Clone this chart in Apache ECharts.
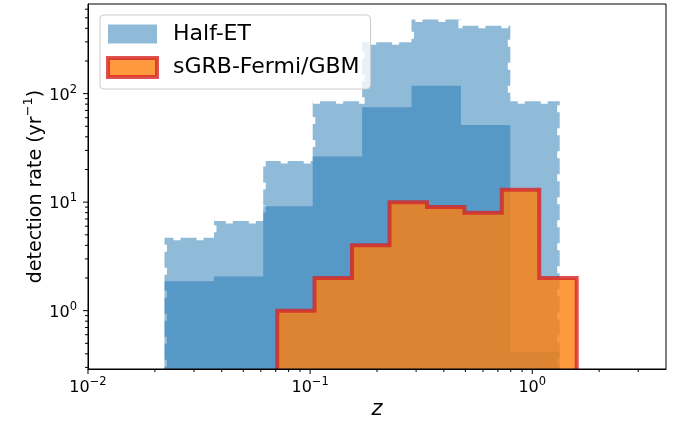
<!DOCTYPE html>
<html><head><meta charset="utf-8">
<script src="https://cdn.jsdelivr.net/npm/echarts@6/dist/echarts.min.js"></script>
<style>html,body{margin:0;padding:0;background:#fff}#c{width:691px;height:428px}</style>
</head><body><div id="c"></div>
<script>
// ---- data ----
const etEdges = [0.0221, 0.0369, 0.0615, 0.1027, 0.1714, 0.2860, 0.4774, 0.7966, 1.329];
const etOuterValues = [4.7, 6.7, 24, 85, 297, 481, 423, 85];      // light dashed histogram
const etValues = [1.87, 2.07, 9.15, 26.4, 75, 118, 51.5, 0.42];     // Half-ET
const grbEdges = [0.0711, 0.1047, 0.1544, 0.2277, 0.3357, 0.4947, 0.7295, 1.0752, 1.585];
const grbValues = [1, 2, 4, 10, 9, 8, 13, 2];                       // sGRB-Fermi/GBM
const xMajorTicks = [0.01, 0.1, 1];
const xMinorTicks = [0.02,0.03,0.04,0.05,0.06,0.07,0.08,0.09,0.2,0.3,0.4,0.5,0.6,0.7,0.8,0.9,2,3];
const yMajorTicks = [1, 10, 100];
const yMinorTicks = [0.3,0.4,0.5,0.6,0.7,0.8,0.9,2,3,4,5,6,7,8,9,20,30,40,50,60,70,80,90,200,300,400,500,600];
const X_MIN = 0.01, X_MAX = 4, Y_MIN = 0.29, Y_MAX = 670;

function decadeLabel(v){
  const l = Math.log10(v), e = Math.round(l);
  if (Math.abs(l - e) > 1e-6) return '';
  return '{b|10}{s|' + String(e).replace('-', '\u2212') + '}';
}
const supRich = {
  b:{fontSize:16, lineHeight:20, verticalAlign:'bottom', fontFamily:'DejaVu Sans', color:'#000'},
  s:{fontSize:11.5, lineHeight:12, verticalAlign:'top', fontFamily:'DejaVu Sans', color:'#000'}
};
function stepPoints(api, edges, vals, base){
  const pts = [api.coord([edges[0], base])];
  for (let i = 0; i < vals.length; i++){
    pts.push(api.coord([edges[i], vals[i]]));
    pts.push(api.coord([edges[i+1], vals[i]]));
  }
  pts.push(api.coord([edges[edges.length-1], base]));
  return pts;
}
const FONT = 'DejaVu Sans';
const chart = echarts.init(document.getElementById('c'), null, {renderer:'canvas'});
const histSeries = (name, edges, vals, style, z) => ({
  type:'custom', name, coordinateSystem:'cartesian2d', clip:true, silent:true, z,
  data:[[0.1, 1]],
  renderItem:(params, api) => ({type:'polygon', shape:{points: stepPoints(api, edges, vals, 0.01)}, style})
});
chart.setOption({
  animation:false,
  grid:{left:88, top:4, width:578, height:365, show:true, borderColor:'#000', borderWidth:1, backgroundColor:'transparent', z:10},
  xAxis:{type:'log', logBase:10, min:X_MIN, max:X_MAX, z:10,
    name:'z', nameLocation:'middle', nameGap:30, nameMoveOverlap:false,
    nameTextStyle:{fontSize:21, fontStyle:'italic', fontFamily:FONT, color:'#000'},
    axisLine:{lineStyle:{color:'#000', width:1}}, axisTick:{show:false}, splitLine:{show:false},
    axisLabel:{margin:7, formatter:decadeLabel, rich:supRich}},
  yAxis:{type:'log', logBase:10, min:Y_MIN, max:Y_MAX, z:10,
    name:'{t|detection rate (yr}{s|\u22121}{t|)}', nameLocation:'middle', nameGap:42, nameRotate:90, nameMoveOverlap:false,
    nameTextStyle:{fontSize:19, fontFamily:FONT, color:'#000',
      rich:{t:{fontSize:19, lineHeight:24, verticalAlign:'bottom', fontFamily:FONT, color:'#000'},
            s:{fontSize:13, lineHeight:14, verticalAlign:'top', fontFamily:FONT, color:'#000'}}},
    axisLine:{lineStyle:{color:'#000', width:1}}, axisTick:{show:false}, splitLine:{show:false},
    axisLabel:{margin:11, formatter:decadeLabel, rich:supRich}},
  legend:{left:100, top:15, orient:'vertical', selectedMode:false, z:20,
    data:[{name:'Half-ET', icon:'rect', itemStyle:{color:'rgba(31,119,180,0.5)'}},
          {name:'sGRB-Fermi/GBM', icon:'rect', itemStyle:{color:'rgba(255,127,14,0.8)', borderColor:'rgba(214,39,40,0.8)', borderWidth:4}}],
    itemWidth:49, itemHeight:19, itemGap:11, padding:[8,11,10,6],
    backgroundColor:'rgba(255,255,255,0.8)', borderColor:'#ccc', borderWidth:1, borderRadius:4,
    textStyle:{fontSize:22, fontFamily:FONT, color:'#000', padding:[0,0,0,11]}},
  series:[
    histSeries('outer', etEdges, etOuterValues, {fill:'rgba(31,119,180,0.5)', stroke:'#fff', lineWidth:5, lineDash:[7,16]}, 2),
    Object.assign(histSeries('Half-ET', etEdges, etValues, {fill:'rgba(31,119,180,0.5)'}, 3), {itemStyle:{color:'rgba(31,119,180,0.5)'}}),
    Object.assign(histSeries('sGRB-Fermi/GBM', grbEdges, grbValues, {fill:'rgba(255,127,14,0.8)', stroke:'rgba(214,39,40,0.8)', lineWidth:4}, 4), {itemStyle:{color:'rgba(255,127,14,0.8)'}}),
    {type:'custom', coordinateSystem:'cartesian2d', silent:true, clip:false, z:12, data:[[0.1,1]],
      renderItem:(params, api) => {
        const ch = [];
        const st = {stroke:'#000', lineWidth:1};
        xMajorTicks.forEach(v => { const p = api.coord([v, Y_MIN]); ch.push({type:'line', shape:{x1:p[0], y1:p[1], x2:p[0], y2:p[1]+5}, style:st}); });
        xMinorTicks.forEach(v => { const p = api.coord([v, Y_MIN]); ch.push({type:'line', shape:{x1:p[0], y1:p[1], x2:p[0], y2:p[1]+3}, style:st}); });
        yMajorTicks.forEach(v => { const p = api.coord([X_MIN, v]); ch.push({type:'line', shape:{x1:p[0], y1:p[1], x2:p[0]-5, y2:p[1]}, style:st}); });
        yMinorTicks.forEach(v => { const p = api.coord([X_MIN, v]); ch.push({type:'line', shape:{x1:p[0], y1:p[1], x2:p[0]-3, y2:p[1]}, style:st}); });
        return {type:'group', children:ch};
      }}
  ]
});
</script></body></html>
